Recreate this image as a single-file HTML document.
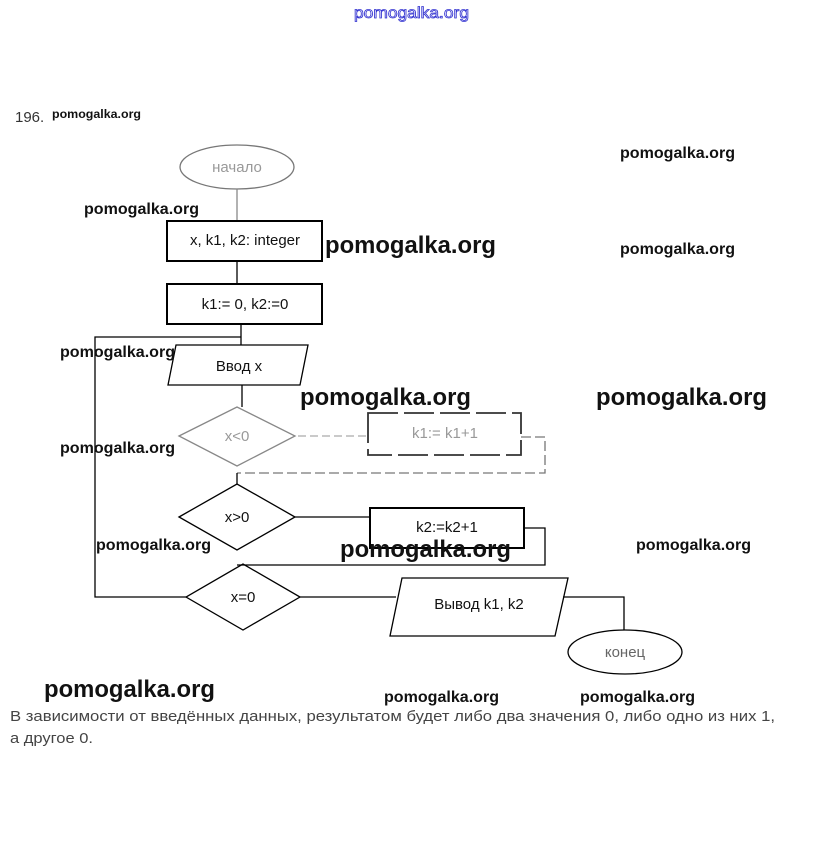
<!DOCTYPE html>
<html><head><meta charset="utf-8"><style>
html,body{margin:0;padding:0;background:#fff;}
svg{display:block;}
text{font-family:"Liberation Sans",sans-serif;}
.w{font-weight:bold;fill:#111;}
</style></head><body>
<svg width="823" height="852" viewBox="0 0 823 852" xmlns="http://www.w3.org/2000/svg">
<text x="354" y="18" font-size="16" fill="#fff" stroke="#3030d0" stroke-width="0.8" textLength="115" lengthAdjust="spacingAndGlyphs">pomogalka.org</text>
<text x="15" y="122" font-size="15" fill="#333">196.</text>
<text x="52" y="118" font-size="12" class="w" textLength="89" lengthAdjust="spacingAndGlyphs">pomogalka.org</text>

<g fill="none" stroke="#000" stroke-width="1.3">
<ellipse cx="237" cy="167" rx="57" ry="22" stroke="#777"/>
<line x1="237" y1="189" x2="237" y2="222" stroke="#888"/>
<rect x="167" y="221" width="155" height="40" stroke-width="2"/>
<line x1="237" y1="261" x2="237" y2="285"/>
<rect x="167" y="284" width="155" height="40" stroke-width="2"/>
<line x1="241" y1="324" x2="241" y2="345"/>
<polyline points="241,337 95,337 95,597 186,597"/>
<polygon points="176,345 308,345 300,385 168,385"/>
<line x1="242" y1="385" x2="242" y2="407"/>
<polygon points="179,436 237,407 295,436 237,466" stroke="#888"/>
<line x1="298" y1="436" x2="368" y2="436" stroke="#aaa" stroke-dasharray="8,4"/>
<rect x="368" y="413" width="153" height="42" stroke="#333" stroke-dasharray="30,6" stroke-width="1.8"/>
<polyline points="521,437 545,437 545,473 237,473" stroke="#777" stroke-dasharray="10,4"/>
<line x1="237" y1="473" x2="237" y2="484"/>
<polygon points="179,517 237,484 295,517 237,550"/>
<line x1="295" y1="517" x2="370" y2="517"/>
<rect x="370" y="508" width="154" height="40" stroke-width="2"/>
<polyline points="524,528 545,528 545,565 237,565"/>
<polygon points="186,597 243,564 300,597 243,630"/>
<line x1="300" y1="597" x2="396" y2="597"/>
<polygon points="402,578 568,578 555,636 390,636"/>
<polyline points="563,597 624,597 624,630"/>
<ellipse cx="625" cy="652" rx="57" ry="22"/>
</g>

<g font-size="15" text-anchor="middle" fill="#111">
<text x="237" y="172" fill="#999">начало</text>
<text x="245" y="245">x, k1, k2: integer</text>
<text x="245" y="309">k1:= 0, k2:=0</text>
<text x="239" y="371">Ввод x</text>
<text x="237" y="441" fill="#999">x&lt;0</text>
<text x="445" y="438" fill="#999">k1:= k1+1</text>
<text x="237" y="522">x&gt;0</text>
<text x="447" y="532">k2:=k2+1</text>
<text x="243" y="602">x=0</text>
<text x="479" y="609">Вывод k1, k2</text>
<text x="625" y="657" fill="#666">конец</text>
</g>

<g font-size="16" class="w">
<text x="84" y="214" textLength="115" lengthAdjust="spacingAndGlyphs">pomogalka.org</text>
<text x="620" y="158" textLength="115" lengthAdjust="spacingAndGlyphs">pomogalka.org</text>
<text x="620" y="254" textLength="115" lengthAdjust="spacingAndGlyphs">pomogalka.org</text>
<text x="60" y="357" textLength="115" lengthAdjust="spacingAndGlyphs">pomogalka.org</text>
<text x="60" y="453" textLength="115" lengthAdjust="spacingAndGlyphs">pomogalka.org</text>
<text x="96" y="550" textLength="115" lengthAdjust="spacingAndGlyphs">pomogalka.org</text>
<text x="636" y="550" textLength="115" lengthAdjust="spacingAndGlyphs">pomogalka.org</text>
<text x="384" y="702" textLength="115" lengthAdjust="spacingAndGlyphs">pomogalka.org</text>
<text x="580" y="702" textLength="115" lengthAdjust="spacingAndGlyphs">pomogalka.org</text>
</g>
<g font-size="24" class="w">
<text x="325" y="253" textLength="171" lengthAdjust="spacingAndGlyphs">pomogalka.org</text>
<text x="300" y="405" textLength="171" lengthAdjust="spacingAndGlyphs">pomogalka.org</text>
<text x="596" y="405" textLength="171" lengthAdjust="spacingAndGlyphs">pomogalka.org</text>
<text x="340" y="557" textLength="171" lengthAdjust="spacingAndGlyphs">pomogalka.org</text>
<text x="44" y="697" textLength="171" lengthAdjust="spacingAndGlyphs">pomogalka.org</text>
</g>

<g font-size="15" fill="#444">
<text x="10" y="721" textLength="765" lengthAdjust="spacingAndGlyphs">В зависимости от введённых данных, результатом будет либо два значения 0, либо одно из них 1,</text>
<text x="10" y="743" textLength="83" lengthAdjust="spacingAndGlyphs">а другое 0.</text>
</g>
</svg>
</body></html>
